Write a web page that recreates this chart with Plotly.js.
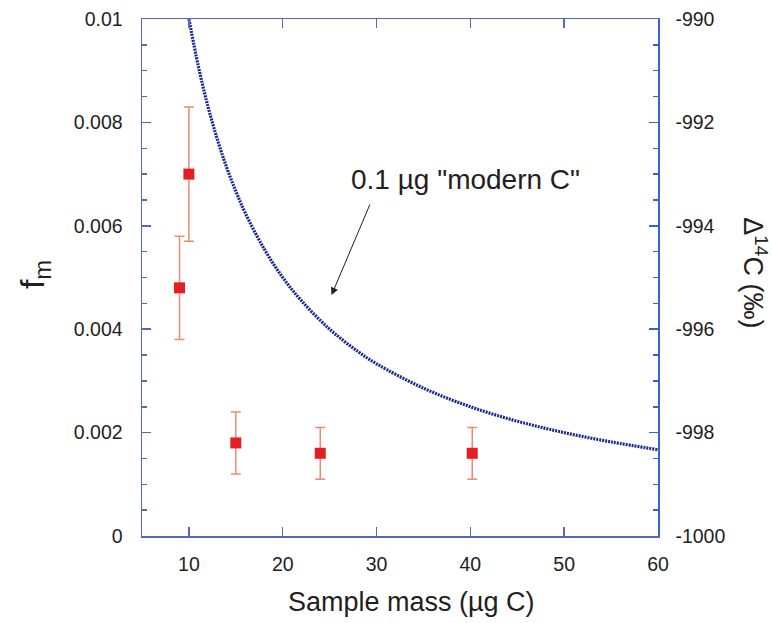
<!DOCTYPE html>
<html><head><meta charset="utf-8">
<script src="https://cdn.plot.ly/plotly-3.0.1.min.js"></script>
<style>html,body{margin:0;padding:0;background:#fff}</style>
</head><body>
<div id="chart" style="width:772px;height:623px"></div>
<script>
// Curve: 0.1 ug "modern C" contribution
var curveMass = [10, 11, 12, 13, 14, 15, 16, 18, 20, 22, 25, 28, 30, 35, 40, 45, 50, 55, 60];
var curveFm   = [0.0100, 0.00909, 0.00833, 0.00769, 0.00714, 0.00667, 0.00625, 0.00556, 0.0050, 0.00455, 0.0040, 0.00357, 0.00333, 0.00286, 0.0025, 0.00222, 0.0020, 0.00182, 0.00167];
// Measured samples
var sampleMass = [9.0, 10.0, 15.0, 24.0, 40.2];
var sampleFm   = [0.0048, 0.0070, 0.0018, 0.0016, 0.0016];
var errPlus    = [0.0010, 0.0013, 0.0006, 0.0005, 0.0005];
var errMinus   = [0.0010, 0.0013, 0.0006, 0.0005, 0.0005];
var xTicks = [10, 20, 30, 40, 50, 60];
var yTicks = [0, 0.002, 0.004, 0.006, 0.008, 0.01];
var yTickText = ['0', '0.002', '0.004', '0.006', '0.008', '0.01'];
var y2Ticks = [-1000, -998, -996, -994, -992, -990];
var y2TickText = ['-1000', '-998', '-996', '-994', '-992', '-990'];

var axisColor = '#5566c4';
var axis2Color = '#3d5fd0';
var txt = '#231f20';
var font = 'Liberation Sans, Arial, sans-serif';

var traces = [
  {x: curveMass, y: curveFm, mode: 'lines', line: {color: '#1c2a8c', width: 3.2, dash: '2px,1px', shape: 'spline'}, hoverinfo: 'none', showlegend: false},
  {x: sampleMass, y: sampleFm, mode: 'markers', marker: {symbol: 'square', size: 11, color: '#e31e24'},
   error_y: {type: 'data', symmetric: false, array: errPlus, arrayminus: errMinus, color: '#ee8a72', thickness: 1.5, width: 5},
   showlegend: false},
  // empty trace so the right-hand Δ14C axis is drawn
  {x: [], y: [], yaxis: 'y2', mode: 'markers', showlegend: false, hoverinfo: 'none'}
];

var layout = {
  width: 772, height: 623,
  margin: {l: 142, r: 114, t: 19, b: 87},
  paper_bgcolor: '#fff', plot_bgcolor: '#fff',
  font: {family: font, color: txt, size: 19.5},
  showlegend: false,
  xaxis: {range: [5, 60], tickvals: xTicks, ticks: 'inside', ticklen: 9, tickwidth: 1.5, tickcolor: axisColor,
          showline: true, linecolor: axisColor, linewidth: 1.5, mirror: 'ticks', showgrid: false, zeroline: false,
          tickfont: {size: 19.5, color: txt}, ticklabelstandoff: 10},
  yaxis: {range: [0, 0.01], tickvals: yTicks, ticktext: yTickText, ticks: 'inside', ticklen: 9, tickwidth: 1.5, tickcolor: axisColor,
          showline: true, linecolor: axisColor, linewidth: 1.5, showgrid: false, zeroline: false,
          minor: {dtick: 0.0005, ticks: 'inside', ticklen: 5, tickcolor: axisColor, tickwidth: 1.5, showgrid: false},
          tickfont: {size: 19.5, color: txt}, ticklabelstandoff: 14},
  yaxis2: {range: [-1000, -990], tickvals: y2Ticks, ticktext: y2TickText, overlaying: 'y', side: 'right', ticks: 'inside', ticklen: 9, tickwidth: 1.5,
           tickcolor: axis2Color, showline: true, linecolor: axis2Color, linewidth: 1.5, showgrid: false, zeroline: false,
           minor: {dtick: 0.5, ticks: 'inside', ticklen: 5, tickcolor: axis2Color, tickwidth: 1.5, showgrid: false},
           tickfont: {size: 19.5, color: txt}, ticklabelstandoff: 12},
  annotations: [
    {xref: 'x', yref: 'y', x: 25.2, y: 0.00466, ax: 39, ay: -92, axref: 'pixel', ayref: 'pixel', text: '',
     showarrow: true, arrowhead: 2, arrowsize: 1.5, arrowwidth: 1, arrowcolor: txt, standoff: 0},
    {xref: 'x', yref: 'y', x: 39.5, y: 0.00690, text: '0.1 \u00b5g "modern C"', showarrow: false,
     xanchor: 'center', yanchor: 'middle', font: {size: 28, color: txt}},
    {xref: 'paper', yref: 'paper', x: 0.522, y: -0.128, text: 'Sample mass (\u00b5g C)', showarrow: false,
     xanchor: 'center', yanchor: 'middle', font: {size: 27, color: txt}},
    {xref: 'paper', yref: 'paper', x: -0.207, y: 0.505, text: 'f<sub>m</sub>', textangle: -90, showarrow: false,
     xanchor: 'center', yanchor: 'middle', font: {size: 34, color: txt}},
    {xref: 'paper', yref: 'paper', x: 1.188, y: 0.51, text: '\u0394<sup>14</sup>C (\u2030)', textangle: 90, showarrow: false,
     xanchor: 'center', yanchor: 'middle', font: {size: 27, color: txt}}
  ]
};

Plotly.newPlot('chart', traces, layout, {displayModeBar: false, staticPlot: true});
</script>
</body></html>
